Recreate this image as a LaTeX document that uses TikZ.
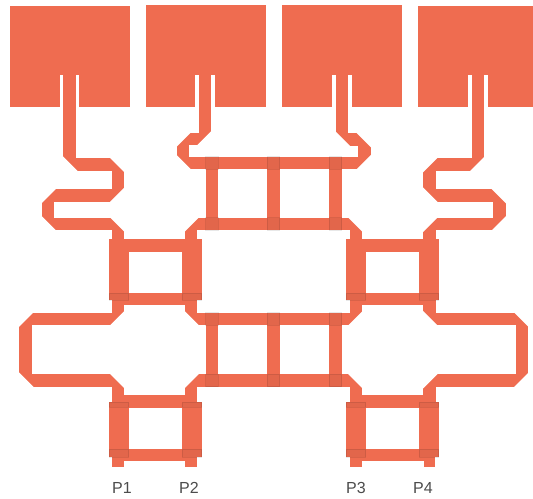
\documentclass[tikz,border=0pt]{standalone}
\usepackage{fontspec}
\setmainfont{Liberation Sans}
\definecolor{metal}{HTML}{EF6C50}
\tikzset{
  trace/.style={draw=metal, line width=9.6pt},
  stub/.style={draw=metal, line width=8.5pt},
  patch/.style={fill=metal},
  overlap/.style={fill=black, fill opacity=0.05, draw=black, draw opacity=0.09, line width=0.5pt},
  port/.style={text=black!70, font=\fontsize{12}{14}\selectfont, inner sep=0pt}
}
\begin{document}
\begin{tikzpicture}[x=0.75pt, y=-0.75pt]
    \useasboundingbox (0,0) rectangle (533,499);

    % Patches
    \foreach \xa/\xb/\ya in {9.5/130/6, 146/266/5.5, 281.5/401.5/5.5, 417.5/533/6} {
            \fill[patch] (\xa,\ya) rectangle (\xb,107);
        }

    % Slots
    \foreach \xa/\xb in {59.5/79, 195/215, 331.5/351.5, 468/488} {
            \fill[white] (\xa,75) rectangle (\xb,107.5);
        }

    % Feeds
    \draw[trace] (69.5,75) -- (69.5,164.5) -- (118,164.5) -- (118,195.5) -- (48,195.5) -- (48,224) -- (118,224) -- (118,242);
    \draw[trace] (205,74) -- (205,139) -- (183,139) -- (183,163) -- (212,163);
    \draw[trace] (342,74) -- (342,139.5) -- (364.5,139.5) -- (364.5,163) -- (335,163);
    \draw[trace] (478,75) -- (478,164.5) -- (429.5,164.5) -- (429.5,195.5) -- (499.5,195.5) -- (499.5,224) -- (429.5,224) -- (429.5,242);

    % Outer loops
    \draw[trace] (118,298) -- (118,319) -- (25.5,319) -- (25.5,380.5) -- (118,380.5) -- (118,404);
    \draw[trace] (429.5,298) -- (429.5,319) -- (522,319) -- (522,380.5) -- (429.5,380.5) -- (429.5,404);

    % Centre rings
    \foreach \ya/\yb in {163/224, 319/380.5} {
            \draw[trace] (206,\ya) -- (342,\ya);
            \draw[trace] (206,\yb) -- (342,\yb);
            \foreach \xa in {212, 273.5, 335.5} {
                    \draw[trace] (\xa,\ya) -- (\xa,\yb);
                }
        }

    % Chamfered stubs
    \draw[trace] (191,242) -- (191,224) -- (212,224);
    \draw[trace] (356,242) -- (356,224) -- (335,224);
    \draw[trace] (191,298) -- (191,319) -- (212,319);
    \draw[trace] (356,298) -- (356,319) -- (335,319);
    \draw[trace] (191,404) -- (191,380.5) -- (212,380.5);
    \draw[trace] (356,404) -- (356,380.5) -- (335,380.5);

    % Corner cuts
    \foreach \xa/\ya/\sx/\sy in {69.5/164.5/-1/1, 118/164.5/1/-1, 118/195.5/1/1, 48/195.5/-1/-1, 48/224/-1/1, 118/224/1/-1,
            478/164.5/1/1, 429.5/164.5/-1/-1, 429.5/195.5/-1/1, 499.5/195.5/1/-1, 499.5/224/1/1, 429.5/224/-1/-1,
            205/139/1/1, 183/139/-1/-1, 183/163/-1/1, 342/139.5/-1/1, 364.5/139.5/1/-1, 364.5/163/1/1,
            191/224/-1/-1, 356/224/1/-1, 191/319/-1/1, 356/319/1/1, 191/380.5/-1/-1, 356/380.5/1/-1,
            118/319/1/1, 25.5/319/-1/-1, 25.5/380.5/-1/1, 118/380.5/1/-1,
            429.5/319/-1/1, 522/319/1/-1, 522/380.5/1/1, 429.5/380.5/-1/-1} {
            \fill[white] (\xa+6.5*\sx,\ya+6.5*\sy) -- (\xa+6.5*\sx-14.5*\sx,\ya+6.5*\sy) -- (\xa+6.5*\sx,\ya+6.5*\sy-14.5*\sy) -- cycle;
        }

    % Side rings
    \foreach \ya/\yb in {245.5/299, 401.5/455} {
            \draw[trace] (118,\ya) -- (191,\ya);
            \draw[trace] (118,\yb) -- (191,\yb);
            \draw[trace] (356,\ya) -- (429.5,\ya);
            \draw[trace] (356,\yb) -- (429.5,\yb);
        }
    \foreach \xa/\xb in {109/128.5, 182/201.5, 346/365.5, 419/438.5} {
            \fill[patch] (\xa,239) rectangle (\xb,300);
            \fill[patch] (\xa,402) rectangle (\xb,457);
        }

    % Ports
    \foreach \xa in {118, 191, 356, 429.5} {
            \draw[stub] (\xa,455) -- (\xa,467);
        }
    \node[port] (P1) at (122,488) {P1};
    \node[port] (P2) at (189,488) {P2};
    \node[port] (P3) at (356,488) {P3};
    \node[port] (P4) at (423,488) {P4};

    % Overlaps
    \foreach \ya in {163, 224, 319, 380.5} {
            \foreach \xa in {212, 273.5, 335.5} {
                    \filldraw[overlap] (\xa-6.2,\ya-6.2) rectangle (\xa+6.2,\ya+6.2);
                }
        }
    \foreach \xa/\xb in {109/128.5, 182/201.5, 346/365.5, 419/438.5} {
            \filldraw[overlap] (\xa,293) rectangle (\xb,300);
            \filldraw[overlap] (\xa,402) rectangle (\xb,407.5);
            \filldraw[overlap] (\xa,449) rectangle (\xb,457);
        }
\end{tikzpicture}
\end{document}
